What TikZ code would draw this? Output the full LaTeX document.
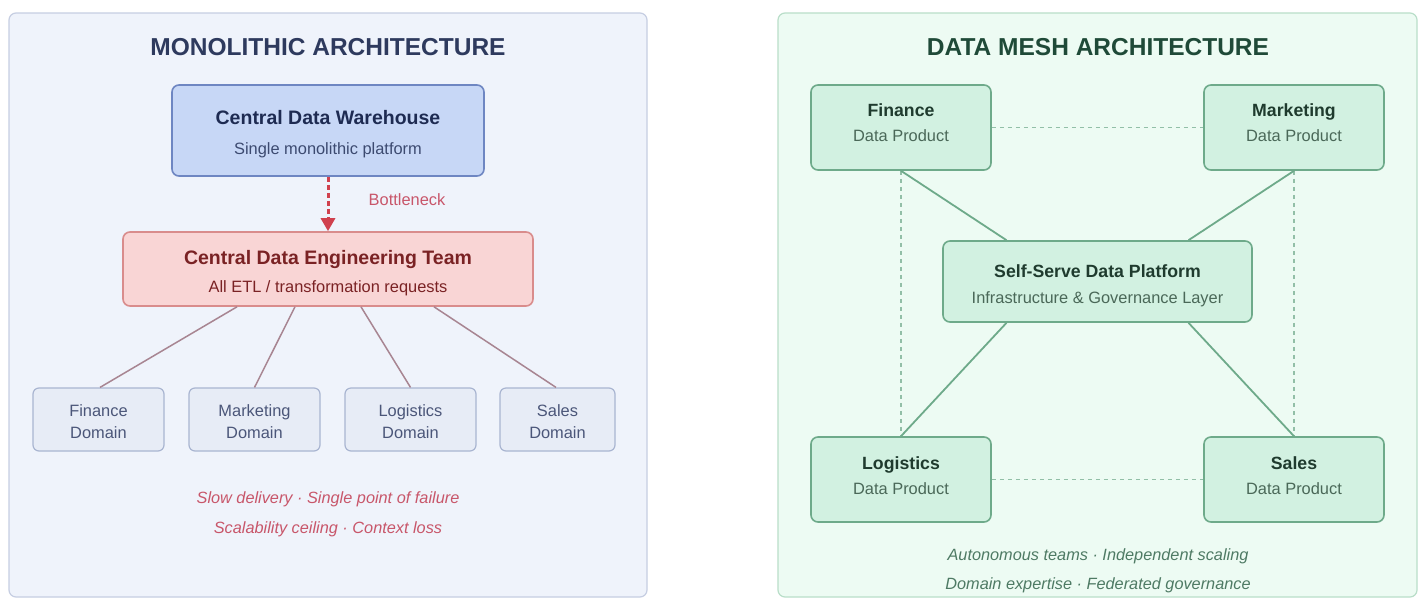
\documentclass[tikz,border=0pt]{standalone}
\usepackage{fontspec}
\setmainfont{Liberation Sans}
\usetikzlibrary{arrows.meta,calc}
\definecolor{lpanelfill}{HTML}{EFF3FB}
\definecolor{lpaneldraw}{HTML}{C6CEE2}
\definecolor{rpanelfill}{HTML}{EDFBF3}
\definecolor{rpaneldraw}{HTML}{B9DEC9}
\definecolor{ltitle}{HTML}{2E3A5E}
\definecolor{rtitle}{HTML}{1F4A38}
\definecolor{whfill}{HTML}{C7D7F6}
\definecolor{whdraw}{HTML}{6E86C2}
\definecolor{whtext}{HTML}{1E2B52}
\definecolor{whsub}{HTML}{3C4A70}
\definecolor{tmfill}{HTML}{F9D5D5}
\definecolor{tmdraw}{HTML}{D98C8C}
\definecolor{tmtext}{HTML}{7A2224}
\definecolor{dmfill}{HTML}{E7ECF6}
\definecolor{dmdraw}{HTML}{A9B5D1}
\definecolor{dmtext}{HTML}{4B5679}
\definecolor{lline}{HTML}{A88592}
\definecolor{redarrow}{HTML}{D0404E}
\definecolor{redtext}{HTML}{C8566A}
\definecolor{mfill}{HTML}{D2F1E1}
\definecolor{mdraw}{HTML}{6EAA8A}
\definecolor{mtext}{HTML}{1F3B2E}
\definecolor{msub}{HTML}{4A6858}
\definecolor{gtext}{HTML}{4E7A64}
\tikzset{
  panel/.style={rounded corners=7pt, line width=1.2pt},
  whbox/.style={draw=whdraw, fill=whfill, rounded corners=7pt, line width=1.6pt, minimum width=312pt, minimum height=91pt, inner sep=0pt},
  tmbox/.style={draw=tmdraw, fill=tmfill, rounded corners=7pt, line width=1.6pt, minimum width=410pt, minimum height=74pt, inner sep=0pt},
  dmbox/.style={draw=dmdraw, fill=dmfill, rounded corners=6pt, line width=1.2pt, minimum height=63pt, inner sep=0pt},
  mbox/.style={draw=mdraw, fill=mfill, rounded corners=7pt, line width=1.6pt, minimum width=180pt, minimum height=85pt, inner sep=0pt},
  txt/.style={inner sep=0pt, text height=0.95em, text depth=0.07em, yshift=-2.5pt},
  ttl/.style={txt, font=\fontsize{24.5}{29}\selectfont\bfseries},
  bt/.style={txt, font=\fontsize{19.5}{23}\selectfont\bfseries},
  mbt/.style={txt, font=\fontsize{17.7}{21}\selectfont\bfseries, text=mtext},
  st/.style={txt, font=\fontsize{16.4}{19}\selectfont},
  dt/.style={font=\fontsize{16.4}{20}\selectfont, text=dmtext, align=center},
  it/.style={txt, font=\fontsize{16.3}{19}\selectfont\itshape},
  lcon/.style={draw=lline, line width=1.5pt},
  mcon/.style={draw=mdraw, line width=1.8pt},
  mdash/.style={draw=mdraw!75, line width=1.2pt, dash pattern=on 4pt off 4pt},
}
\begin{document}
\begin{tikzpicture}[x=1pt,y=-1pt]
\useasboundingbox[fill=white] (0,0) rectangle (1422,598);
% panels
\draw[panel, fill=lpanelfill, draw=lpaneldraw] (9,13) rectangle (647,597);
\draw[panel, fill=rpanelfill, draw=rpaneldraw] (778,13) rectangle (1417,597);
\node[ttl, text=ltitle] (ltitle) at (328,49) {MONOLITHIC ARCHITECTURE};
\node[ttl, text=rtitle] (rtitle) at (1098,49) {DATA MESH ARCHITECTURE};
% monolithic
\node[whbox] (wh) at (328,130.5) {};
\node[bt, text=whtext] (whA) at (328,118) {Central Data Warehouse};
\node[st, text=whsub] (whB) at (328,148) {Single monolithic platform};
\node[tmbox] (tm) at (328,269) {};
\node[bt, text=tmtext] (tmA) at (328,258) {Central Data Engineering Team};
\node[st, text=tmtext] (tmB) at (328,286) {All ETL / transformation requests};
\draw[redarrow, line width=3pt, dash pattern=on 5pt off 3pt, -{Triangle[length=13pt,width=14pt]}] (wh.south) -- (tm.north);
\node[st, text=redtext] (bn) at (407,199) {Bottleneck};
\node[dmbox, minimum width=131pt] (d1) at (98.5,419.5) {};
\node[dmbox, minimum width=131pt] (d2) at (254.5,419.5) {};
\node[dmbox, minimum width=131pt] (d3) at (410.5,419.5) {};
\node[dmbox, minimum width=115pt] (d4) at (557.5,419.5) {};
\node[dt] (d1t) at ([yshift=-2pt]d1.center) {Finance\\[2pt]Domain};
\node[dt] (d2t) at ([yshift=-2pt]d2.center) {Marketing\\[2pt]Domain};
\node[dt] (d3t) at ([yshift=-2pt]d3.center) {Logistics\\[2pt]Domain};
\node[dt] (d4t) at ([yshift=-2pt]d4.center) {Sales\\[2pt]Domain};
\draw[lcon] ([xshift=-91pt]tm.south) -- ([xshift=1.5pt]d1.north);
\draw[lcon] ([xshift=-33pt]tm.south) -- (d2.north);
\draw[lcon] ([xshift=33pt]tm.south) -- (d3.north);
\draw[lcon] ([xshift=106pt]tm.south) -- ([xshift=-1.5pt]d4.north);
\node[it, text=redtext] (lb1) at (328,497) {Slow delivery · Single point of failure};
\node[it, text=redtext] (lb2) at (328,527) {Scalability ceiling · Context loss};
% data mesh
\node[mbox] (mf) at (901,127.5) {};
\node[mbox] (mm) at (1294,127.5) {};
\node[mbox, minimum width=309pt, minimum height=81pt] (mp) at (1097.5,281.5) {};
\node[mbox] (ml) at (901,479.5) {};
\node[mbox] (ms) at (1294,479.5) {};
\draw[mdash] (mf.east) -- (mm.west);
\draw[mdash] (ml.east) -- (ms.west);
\draw[mdash] (mf.south) -- (ml.north);
\draw[mdash] (mm.south) -- (ms.north);
\draw[mcon] (mf.south) -- ([xshift=-91pt]mp.north);
\draw[mcon] (mm.south) -- ([xshift=91pt]mp.north);
\draw[mcon] ([xshift=-91pt]mp.south) -- (ml.north);
\draw[mcon] ([xshift=91pt]mp.south) -- (ms.north);
\node[mbt] (mfA) at (901,110) {Finance};
\node[st, text=msub] (mfB) at (901,135) {Data Product};
\node[mbt] (mmA) at (1294,110) {Marketing};
\node[st, text=msub] (mmB) at (1294,135) {Data Product};
\node[mbt] (mpA) at (1097.5,271) {Self-Serve Data Platform};
\node[st, text=msub] (mpB) at (1097.5,297) {Infrastructure \& Governance Layer};
\node[mbt] (mlA) at (901,463) {Logistics};
\node[st, text=msub] (mlB) at (901,488) {Data Product};
\node[mbt] (msA) at (1294,463) {Sales};
\node[st, text=msub] (msB) at (1294,488) {Data Product};
\node[it, text=gtext] (rb1) at (1098,554) {Autonomous teams · Independent scaling};
\node[it, text=gtext] (rb2) at (1098,583) {Domain expertise · Federated governance};
\end{tikzpicture}
\end{document}
